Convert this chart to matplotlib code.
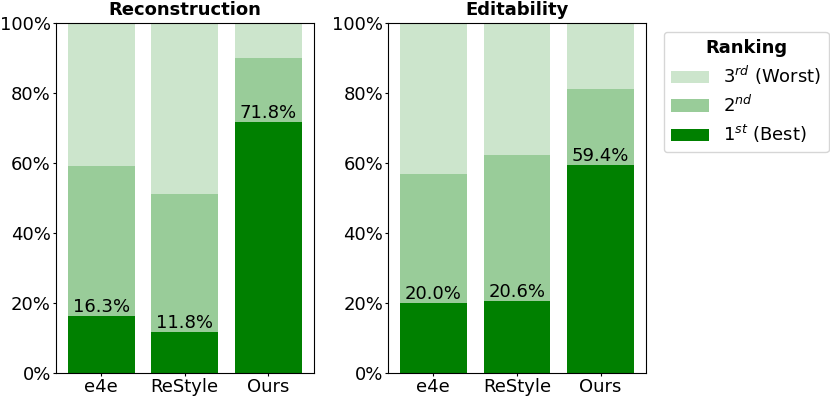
import matplotlib
matplotlib.use("Agg")
import matplotlib.pyplot as plt
from matplotlib.ticker import PercentFormatter
import numpy as np

methods = ["e4e", "ReStyle", "Ours"]
titles = ["Reconstruction", "Editability"]
# share (%) of 1st / 2nd / 3rd place per method
first = [[16.3, 11.8, 71.8], [20.0, 20.6, 59.4]]
second = [[42.9, 39.3, 18.1], [36.9, 41.6, 21.8]]
third = [[40.8, 48.9, 10.1], [43.1, 37.8, 18.8]]

plt.rcParams["font.size"] = 13

fig, axes = plt.subplots(1, 2, figsize=(8.3, 3.97), dpi=100)
fig.subplots_adjust(left=0.0675, right=0.778, top=0.942, bottom=0.0605, wspace=0.29)

x = np.arange(len(methods))
for i, ax in enumerate(axes):
    f = np.array(first[i])
    s = np.array(second[i])
    t = np.array(third[i])
    b1 = ax.bar(x, f, width=0.8, color="green", label="1$^{st}$ (Best)")
    b2 = ax.bar(x, s, width=0.8, bottom=f, color="green", alpha=0.4, linewidth=0, label="2$^{nd}$")
    b3 = ax.bar(x, t, width=0.8, bottom=f + s, color="green", alpha=0.2, linewidth=0, label="3$^{rd}$ (Worst)")
    for xi, v in zip(x, f):
        ax.text(xi, v, "%.1f%%" % v, ha="center", va="bottom", fontsize=13)
    ax.set_ylim(0, 100)
    ax.set_xticks(x)
    ax.set_xticklabels(methods)
    ax.yaxis.set_major_formatter(PercentFormatter(decimals=0))
    ax.tick_params(length=2.5, pad=1.2)
    ax.set_title(titles[i], fontweight="bold", fontsize=13, pad=6)

leg = axes[1].legend(handles=[b3, b2, b1], title="Ranking", loc="upper left",
                     bbox_to_anchor=(1.07, 0.975), fontsize=13, handlelength=2.1,
                     labelspacing=0.4, borderaxespad=0)
leg.get_title().set_fontweight("bold")
leg.get_title().set_fontsize(13)

fig.savefig("out.png", dpi=100)
